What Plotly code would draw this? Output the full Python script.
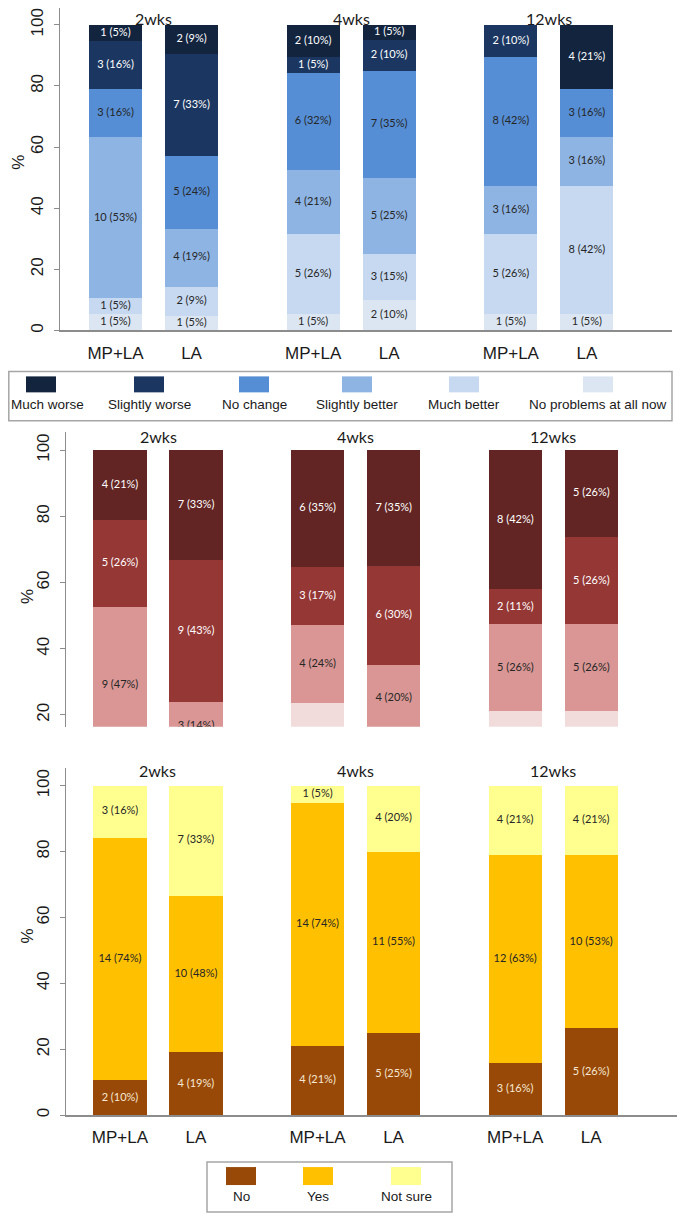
import plotly.graph_objects as go

# ---------------- data ----------------
groups = ["2wks", "4wks", "12wks"]
arms = ["MP+LA", "LA"]

# Panel 1 (bottom -> top of stack)
top_categories = ["No problems at all now", "Much better", "Slightly better",
                  "No change", "Slightly worse", "Much worse"]
top_no_problems = [1, 1, 1, 2, 1, 1]
top_much_better = [1, 2, 5, 3, 5, 8]
top_slightly_better = [10, 4, 4, 5, 3, 3]
top_no_change = [3, 5, 6, 7, 8, 3]
top_slightly_worse = [3, 7, 1, 2, 2, 0]
top_much_worse = [1, 2, 2, 1, 0, 4]
top_no_problems_pct = [5, 5, 5, 10, 5, 5]
top_much_better_pct = [5, 9, 26, 15, 26, 42]
top_slightly_better_pct = [53, 19, 21, 25, 16, 16]
top_no_change_pct = [16, 24, 32, 35, 42, 16]
top_slightly_worse_pct = [16, 33, 5, 10, 10, 0]
top_much_worse_pct = [5, 9, 10, 5, 0, 21]

# Panel 2 (bottom -> top of stack)
mid_categories = ["Level 1", "Level 2", "Level 3", "Level 4"]
mid_level1 = [1, 2, 4, 3, 4, 4]
mid_level2 = [9, 3, 4, 4, 5, 5]
mid_level3 = [5, 9, 3, 6, 2, 5]
mid_level4 = [4, 7, 6, 7, 8, 5]
mid_level1_pct = [5, 10, 24, 15, 21, 21]
mid_level2_pct = [47, 14, 24, 20, 26, 26]
mid_level3_pct = [26, 43, 17, 30, 11, 26]
mid_level4_pct = [21, 33, 35, 35, 42, 26]

# Panel 3 (bottom -> top of stack)
bot_categories = ["No", "Yes", "Not sure"]
bot_no = [2, 4, 4, 5, 3, 5]
bot_yes = [14, 10, 14, 11, 12, 10]
bot_not_sure = [3, 7, 1, 4, 4, 4]
bot_no_pct = [10, 19, 21, 25, 16, 26]
bot_yes_pct = [74, 48, 74, 55, 63, 53]
bot_not_sure_pct = [16, 33, 5, 20, 21, 21]

# ---------------- styling ----------------
OFF = 8                      # browser body margin
W, H = 685 - 2 * OFF, 1223 - 2 * OFF
def pxx(p):
    return (p - OFF) / W
def pxy(p):
    return 1 - (p - OFF) / H

top_colors = ["#dce6f2", "#c6d9f1", "#8eb4e3", "#558ed5", "#1b3761", "#13243f"]
top_txt = ["#262626", "#262626", "#262626", "#262626", "#ffffff", "#ffffff"]
mid_colors = ["#f2dcdb", "#d99694", "#953735", "#632523"]
mid_txt = ["#262626", "#262626", "#ffffff", "#ffffff"]
bot_colors = ["#984807", "#ffc000", "#ffff8f"]
bot_txt = ["#f6e8d4", "#262626", "#262626"]

bar_x = [g * 2.6 + m for g in range(len(groups)) for m in range(len(arms))]
tick_text = [a for g in groups for a in arms]
group_centers = [g * 2.6 + 0.5 for g in range(len(groups))]

panels = [
    dict(cats=top_categories,
         counts=[top_no_problems, top_much_better, top_slightly_better,
                 top_no_change, top_slightly_worse, top_much_worse],
         pcts=[top_no_problems_pct, top_much_better_pct, top_slightly_better_pct,
               top_no_change_pct, top_slightly_worse_pct, top_much_worse_pct],
         colors=top_colors, txt=top_txt, ax="", xdom=[pxx(60), pxx(672)],
         ydom=[pxy(331), pxy(8)], yrange=[0, 105.5], xrange=[-0.73, 7.32],
         ticks=[0, 20, 40, 60, 80, 100], showx=True, title_y=None, pct_pos=(19, 163)),
    dict(cats=mid_categories,
         counts=[mid_level1, mid_level2, mid_level3, mid_level4],
         pcts=[mid_level1_pct, mid_level2_pct, mid_level3_pct, mid_level4_pct],
         colors=mid_colors, txt=mid_txt, ax="2", xdom=[pxx(66), pxx(672)],
         ydom=[pxy(728), pxy(433)], yrange=[16.4, 105.4], xrange=[-0.71, 7.26],
         ticks=[20, 40, 60, 80, 100], showx=False, title_y=437, pct_pos=(27, 598)),
    dict(cats=bot_categories,
         counts=[bot_no, bot_yes, bot_not_sure],
         pcts=[bot_no_pct, bot_yes_pct, bot_not_sure_pct],
         colors=bot_colors, txt=bot_txt, ax="3", xdom=[pxx(66), pxx(677)],
         ydom=[pxy(1117), pxy(769)], yrange=[0, 105.45], xrange=[-0.71, 7.33],
         ticks=[0, 20, 40, 60, 80, 100], showx=True, title_y=772, pct_pos=(27, 938)),
]

fig = go.Figure()
annotations = []
shapes = []
label_font = "Lato"
axis_font = "Liberation Sans, Arial"

for p in panels:
    xa, ya = "x" + p["ax"], "y" + p["ax"]
    n = len(bar_x)
    totals = [sum(c[i] for c in p["counts"]) for i in range(n)]
    base = [0.0] * n
    for k, cat in enumerate(p["cats"]):
        vals = [p["counts"][k][i] / totals[i] * 100 for i in range(n)]
        fig.add_trace(go.Bar(
            x=bar_x, y=vals, base=base[:], width=0.7, name=cat,
            marker=dict(color=p["colors"][k], line=dict(width=0)),
            xaxis=xa, yaxis=ya, showlegend=False, hoverinfo="skip"))
        tx, ty, tt = [], [], []
        for i in range(n):
            if p["counts"][k][i] > 0:
                tx.append(bar_x[i])
                ty.append(base[i] + vals[i] / 2)
                tt.append(f"{p['counts'][k][i]} ({p['pcts'][k][i]}%)")
        fig.add_trace(go.Scatter(
            x=tx, y=ty, text=tt, mode="text", cliponaxis=True,
            textfont=dict(family=label_font, size=11, color=p["txt"][k]),
            xaxis=xa, yaxis=ya, showlegend=False, hoverinfo="skip"))
        base = [base[i] + vals[i] for i in range(n)]

    xkey = "xaxis" + p["ax"]
    ykey = "yaxis" + p["ax"]
    fig.update_layout(**{
        xkey: dict(domain=p["xdom"], range=p["xrange"], anchor=ya,
                   showline=p["showx"], linecolor="#8c8c8c", linewidth=1.5,
                   showgrid=False, zeroline=False, ticks="",
                   tickvals=bar_x, ticktext=tick_text, showticklabels=p["showx"],
                   ticklabelstandoff=6,
                   tickfont=dict(family=axis_font, size=17, color="#1a1a1a")),
        ykey: dict(domain=p["ydom"], range=p["yrange"], anchor=xa,
                   showline=True, linecolor="#8c8c8c", linewidth=1.2,
                   showgrid=False, zeroline=False, ticks="outside", ticklen=5,
                   tickcolor="#8c8c8c", tickvals=p["ticks"], tickangle=-90,
                   ticklabelstandoff=4,
                   tickfont=dict(family=axis_font, size=17, color="#1a1a1a")),
    })
    for g, gc in zip(groups, group_centers):
        if p["title_y"] is None:
            ty_, yanc = 1.0, "top"
        else:
            ty_, yanc = pxy(p["title_y"]), "middle"
        annotations.append(dict(x=gc, y=ty_, xref=xa, yref="paper",
                                text=g, showarrow=False, xanchor="center",
                                yanchor=yanc, borderpad=0,
                                font=dict(family=label_font, size=16, color="#1a1a1a")))
    annotations.append(dict(x=pxx(p["pct_pos"][0]), y=pxy(p["pct_pos"][1]),
                            xref="paper", yref="paper", text="%", textangle=-90,
                            showarrow=False, xanchor="center", yanchor="middle",
                            font=dict(family=axis_font, size=17, color="#1a1a1a")))

# ---------------- custom legends ----------------
def add_legend(box, names, colors, centers, sw_y, txt_y, sw_w=30, txt_centers=None):
    txt_centers = txt_centers or centers
    shapes.append(dict(type="rect", xref="paper", yref="paper",
                       x0=pxx(box[0]), x1=pxx(box[1]), y0=pxy(box[3]), y1=pxy(box[2]),
                       line=dict(color="#a6a6a6", width=1.5), fillcolor="rgba(0,0,0,0)"))
    for nm, col, c, tc in zip(names, colors, centers, txt_centers):
        shapes.append(dict(type="rect", xref="paper", yref="paper",
                           x0=pxx(c - sw_w / 2), x1=pxx(c + sw_w / 2),
                           y0=pxy(sw_y[1]), y1=pxy(sw_y[0]),
                           line=dict(width=0), fillcolor=col))
        annotations.append(dict(x=pxx(tc), y=pxy(txt_y), xref="paper", yref="paper",
                                text=nm, showarrow=False, xanchor="center",
                                yanchor="middle",
                                font=dict(family=axis_font, size=13.5, color="#1a1a1a")))

add_legend((8.8, 672, 372, 421.5), top_categories[::-1], top_colors[::-1],
           [41, 149, 254, 357, 464, 598], (377, 393), 405,
           txt_centers=[47, 149, 254, 357, 464, 598])
add_legend((207, 452, 1164, 1214), bot_categories, bot_colors,
           [241, 318, 406], (1169, 1187), 1198)

fig.update_layout(
    width=W, height=H, margin=dict(l=0, r=0, t=0, b=0),
    barmode="stack", plot_bgcolor="white", paper_bgcolor="white",
    annotations=annotations, shapes=shapes, showlegend=False)

fig.write_html("out.html")
